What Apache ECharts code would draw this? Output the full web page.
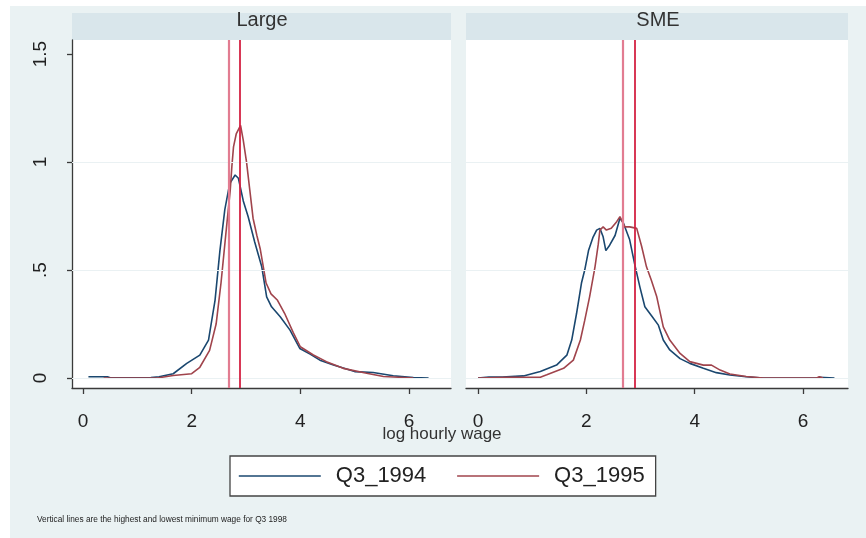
<!DOCTYPE html>
<html>
<head>
<meta charset="utf-8">
<script src="https://cdn.jsdelivr.net/npm/echarts@6/dist/echarts.min.js"></script>
<style>
  html, body { margin: 0; padding: 0; background: #fff; }
  #chart { width: 866px; height: 538px; }
</style>
</head>
<body>
<div id="chart"></div>
<script>
// panels and tick values
var panels = ["Large", "SME"];
var xTicks = [0, 2, 4, 6];
var yTicks = [0, 0.5, 1, 1.5];
var yTickText = ["0", ".5", "1", "1.5"];
var gridYs = [0, 0.5, 1];
var minWageLines = [2.68, 2.89];

// kernel density, log hourly wage, Large firms
var large1994 = [
  [0.1, 0.006], [0.45, 0.006], [0.5, 0.001], [1.25, 0.002], [1.4, 0.006], [1.66, 0.02],
  [1.91, 0.068], [2.15, 0.106], [2.31, 0.176], [2.43, 0.36], [2.52, 0.59], [2.61, 0.78],
  [2.7, 0.9], [2.8, 0.94], [2.86, 0.925], [2.95, 0.82], [3.04, 0.747], [3.16, 0.63],
  [3.29, 0.515], [3.38, 0.376], [3.47, 0.33], [3.63, 0.284], [3.81, 0.222], [3.99, 0.137],
  [4.18, 0.111], [4.36, 0.083], [4.61, 0.06], [4.91, 0.037], [5.0, 0.03], [5.34, 0.026],
  [5.71, 0.011], [6.08, 0.002], [6.36, 0.0]
];
var large1995 = [
  [0.38, 0.0], [1.37, 0.0], [1.66, 0.012], [2.0, 0.02], [2.15, 0.05], [2.33, 0.128],
  [2.45, 0.25], [2.54, 0.44], [2.63, 0.67], [2.71, 0.87], [2.74, 0.98], [2.77, 1.07],
  [2.82, 1.13], [2.9, 1.17], [2.95, 1.1], [3.01, 1.0], [3.07, 0.87], [3.13, 0.74],
  [3.2, 0.66], [3.26, 0.6], [3.37, 0.44], [3.46, 0.39], [3.58, 0.36], [3.71, 0.3],
  [3.87, 0.21], [4.0, 0.145], [4.24, 0.107], [4.48, 0.076], [4.79, 0.045], [5.22, 0.022],
  [5.53, 0.007], [6.08, 0.0]
];

// SME firms
var sme1994 = [
  [0.0, 0.0], [0.2, 0.005], [0.45, 0.005], [0.84, 0.01], [1.15, 0.03], [1.45, 0.06],
  [1.64, 0.106], [1.73, 0.176], [1.82, 0.3], [1.91, 0.44], [1.97, 0.5], [2.04, 0.59],
  [2.12, 0.65], [2.19, 0.685], [2.25, 0.693], [2.31, 0.654], [2.36, 0.59], [2.43, 0.615],
  [2.53, 0.66], [2.62, 0.74], [2.68, 0.72], [2.8, 0.64], [2.89, 0.53], [2.99, 0.42],
  [3.08, 0.33], [3.2, 0.29], [3.33, 0.245], [3.42, 0.176], [3.54, 0.13], [3.73, 0.09],
  [3.91, 0.068], [4.16, 0.045], [4.4, 0.025], [4.65, 0.014], [4.95, 0.006], [5.26, 0.0],
  [6.25, 0.0], [6.3, 0.003], [6.58, 0.0]
];
var sme1995 = [
  [0.0, 0.0], [0.54, 0.003], [1.15, 0.004], [1.27, 0.015], [1.58, 0.045], [1.76, 0.083],
  [1.89, 0.176], [1.97, 0.267], [2.06, 0.376], [2.16, 0.515], [2.22, 0.62], [2.25, 0.685],
  [2.31, 0.7], [2.37, 0.685], [2.46, 0.693], [2.56, 0.724], [2.62, 0.747], [2.71, 0.7],
  [2.8, 0.7], [2.93, 0.693], [3.02, 0.61], [3.11, 0.515], [3.2, 0.453], [3.3, 0.376],
  [3.42, 0.237], [3.54, 0.176], [3.73, 0.114], [3.91, 0.076], [4.16, 0.06], [4.31, 0.06],
  [4.47, 0.037], [4.65, 0.019], [4.95, 0.007], [5.26, 0.0], [6.25, 0.0], [6.3, 0.006],
  [6.37, 0.0]
];

var blue = "#1a476f";
var red = "#a0444c";
var font = "Liberation Sans";
var axisCol = "#3a3a3a";

function xAxisCfg(idx, min, max) {
  return {
    type: "value", gridIndex: idx, min: min, max: max,
    axisLine: { show: true, onZero: false, lineStyle: { color: axisCol, width: 1.3 } },
    axisTick: { show: true, length: 6, customValues: xTicks, lineStyle: { color: axisCol, width: 1.3 } },
    axisLabel: { customValues: xTicks, margin: 24, fontFamily: font, fontSize: 19, color: "#222" },
    splitLine: { show: false }
  };
}

function yAxisCfg(idx, showAxis) {
  return {
    type: "value", gridIndex: idx, min: -0.046, max: 1.565,
    axisLine: { show: showAxis, onZero: false, lineStyle: { color: axisCol, width: 1.3 } },
    axisTick: { show: showAxis, length: 5, customValues: yTicks, lineStyle: { color: axisCol, width: 1.3 } },
    axisLabel: {
      show: showAxis, customValues: yTicks, rotate: 90, margin: 22,
      fontFamily: font, fontSize: 19, color: "#222",
      formatter: function (v) {
        var i = yTicks.indexOf(v);
        return i >= 0 ? yTickText[i] : "";
      }
    },
    splitLine: { show: false }
  };
}

function curve(name, data, idx, col) {
  return {
    name: name, type: "line", xAxisIndex: idx, yAxisIndex: idx, data: data,
    symbol: "none", smooth: false, z: 3,
    lineStyle: { color: col, width: 1.6 }, itemStyle: { color: col },
    emphasis: { disabled: true }
  };
}

function guides(idx) {
  return [
    {
      name: "grid" + idx, type: "line", xAxisIndex: idx, yAxisIndex: idx, data: [], z: 1,
      markLine: {
        silent: true, symbol: "none", label: { show: false },
        lineStyle: { color: "#eaf1f3", width: 1.2, type: "solid" },
        data: gridYs.map(function (v) { return { yAxis: v }; })
      }
    },
    {
      name: "mw" + idx, type: "line", xAxisIndex: idx, yAxisIndex: idx, data: [], z: 5,
      markLine: {
        silent: true, symbol: "none", label: { show: false },
        data: [
          { xAxis: minWageLines[0], lineStyle: { color: "#e27c91", width: 2.2, type: "solid" } },
          { xAxis: minWageLines[1], lineStyle: { color: "#d42243", width: 1.8, type: "solid" } }
        ]
      }
    }
  ];
}

var chart = echarts.init(document.getElementById("chart"), null, { renderer: "canvas" });

chart.setOption({
  backgroundColor: "#fff",
  animation: false,
  grid: [
    { left: 72, top: 40, width: 379, height: 348, show: true, backgroundColor: "#fff", borderWidth: 0 },
    { left: 466, top: 40, width: 382, height: 348, show: true, backgroundColor: "#fff", borderWidth: 0 }
  ],
  xAxis: [xAxisCfg(0, -0.2025, 6.773), xAxisCfg(1, -0.2215, 6.83)],
  yAxis: [yAxisCfg(0, true), yAxisCfg(1, false)],
  legend: {
    data: ["Q3_1994", "Q3_1995"],
    left: 230, top: 456,
    padding: [9, 11, 9, 8],
    itemWidth: 82, itemHeight: 14, itemGap: 30,
    itemStyle: { opacity: 0 },
    lineStyle: { width: 1.6 },
    backgroundColor: "#fff", borderColor: "#444", borderWidth: 1.3,
    textStyle: { fontFamily: font, fontSize: 22, color: "#222", padding: [0, 0, 0, 10] }
  },
  graphic: [
    { type: "rect", z: -10, silent: true, shape: { x: 10, y: 6, width: 856, height: 532 }, style: { fill: "#eaf2f3" } },
    { type: "rect", z: -5, silent: true, shape: { x: 72, y: 13, width: 379, height: 27 }, style: { fill: "#d9e6eb" } },
    { type: "rect", z: -5, silent: true, shape: { x: 466, y: 13, width: 382, height: 27 }, style: { fill: "#d9e6eb" } },
    { type: "text", silent: true, x: 262, y: 20, style: { text: panels[0], fontFamily: font, fontSize: 20, fill: "#333", align: "center", verticalAlign: "middle" } },
    { type: "text", silent: true, x: 658, y: 20, style: { text: panels[1], fontFamily: font, fontSize: 20, fill: "#333", align: "center", verticalAlign: "middle" } },
    { type: "text", silent: true, x: 442, y: 434, style: { text: "log hourly wage", fontFamily: font, fontSize: 17, fill: "#333", align: "center", verticalAlign: "middle" } },
    { type: "text", silent: true, x: 37, y: 520, style: { text: "Vertical lines are the highest and lowest minimum wage for Q3 1998", fontFamily: font, fontSize: 8.3, fill: "#222", align: "left", verticalAlign: "middle" } }
  ],
  series: [
    curve("Q3_1994", large1994, 0, blue),
    curve("Q3_1995", large1995, 0, red),
    curve("Q3_1994", sme1994, 1, blue),
    curve("Q3_1995", sme1995, 1, red)
  ].concat(guides(0), guides(1))
});
</script>
</body>
</html>
